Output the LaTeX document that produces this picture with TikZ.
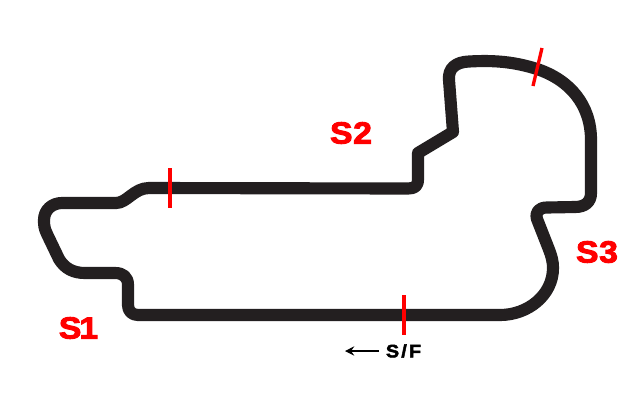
\documentclass[tikz,border=0pt]{standalone}
\usepackage{fontspec}
\setmainfont{Liberation Sans}
\newfontfamily\sectorfont[FakeBold=3,FakeStretch=1.1,LetterSpace=2]{Liberation Sans Bold}
\newfontfamily\sffont[FakeBold=2.5,FakeStretch=1.1,LetterSpace=12]{Liberation Sans Bold}
\definecolor{trackblack}{HTML}{231F20}
\definecolor{markred}{HTML}{FF0000}
\usetikzlibrary{arrows.meta}
\tikzset{
  track/.style={draw=trackblack,line width=9.1pt,line join=round},
  tick/.style={draw=markred,line width=2.5pt},
  sector/.style={text=markred,font=\fontsize{23pt}{24pt}\sectorfont,inner sep=0pt},
  sflabel/.style={text=black,font=\fontsize{13.5pt}{15pt}\sffont,inner sep=0pt},
  sfarrow/.style={draw=black,line width=0.9pt,-{Stealth[length=7pt,width=7pt,inset=2.5pt]}}
}
\begin{document}
\begin{tikzpicture}[x=0.75pt,y=-0.75pt]
\useasboundingbox (0,0) rectangle (635,415);
\fill[white] (0,0) rectangle (635,415);
\draw[track]
  (500,315) -- (138,315)
  .. controls (132,315) and (128,311) .. (128,305)
  -- (128,285)
  .. controls (128,277) and (123,273) .. (115,273)
  -- (85,273)
  .. controls (74,273) and (65,269) .. (59,259)
  -- (47,234)
  .. controls (44,228) and (44,224) .. (44,220)
  .. controls (44,210) and (52,203) .. (62,203)
  -- (116,203)
  .. controls (127,203) and (134,188) .. (149,188)
  -- (408,188.5)
  .. controls (415,188.5) and (418,186) .. (418,179)
  -- (418,153)
  -- (453,132)
  -- (449,80)
  .. controls (448,68) and (456,62) .. (469,61.5)
  .. controls (495,60) and (515,62) .. (537,69)
  .. controls (570,80) and (591,105) .. (591,140)
  -- (591,193)
  .. controls (591,202) and (585,207) .. (575,207)
  -- (547,207.5)
  .. controls (539,207.5) and (535,212) .. (537,219)
  -- (548,247)
  .. controls (552,257) and (553,262) .. (553,268)
  .. controls (553,295) and (528,315) .. (500,315);
\coordinate (t1a) at (170,168);
\coordinate (t1b) at (170,208);
\coordinate (t2a) at (542,48);
\coordinate (t2b) at (533,86);
\coordinate (t3a) at (404,295);
\coordinate (t3b) at (404,335);
\draw[tick] (t1a) -- (t1b);
\draw[tick] (t2a) -- (t2b);
\draw[tick] (t3a) -- (t3b);
\node[sector] (s1) at (78.5,328) {S\kern-1.5pt 1};
\node[sector] (s2) at (351,133) {S2};
\node[sector] (s3) at (597,252) {S3};
\node[sflabel] (sf) at (403.5,351) {S/F};
\coordinate (sfend) at (345,351);
\draw[sfarrow] (379,351) -- (sfend);
\end{tikzpicture}
\end{document}
